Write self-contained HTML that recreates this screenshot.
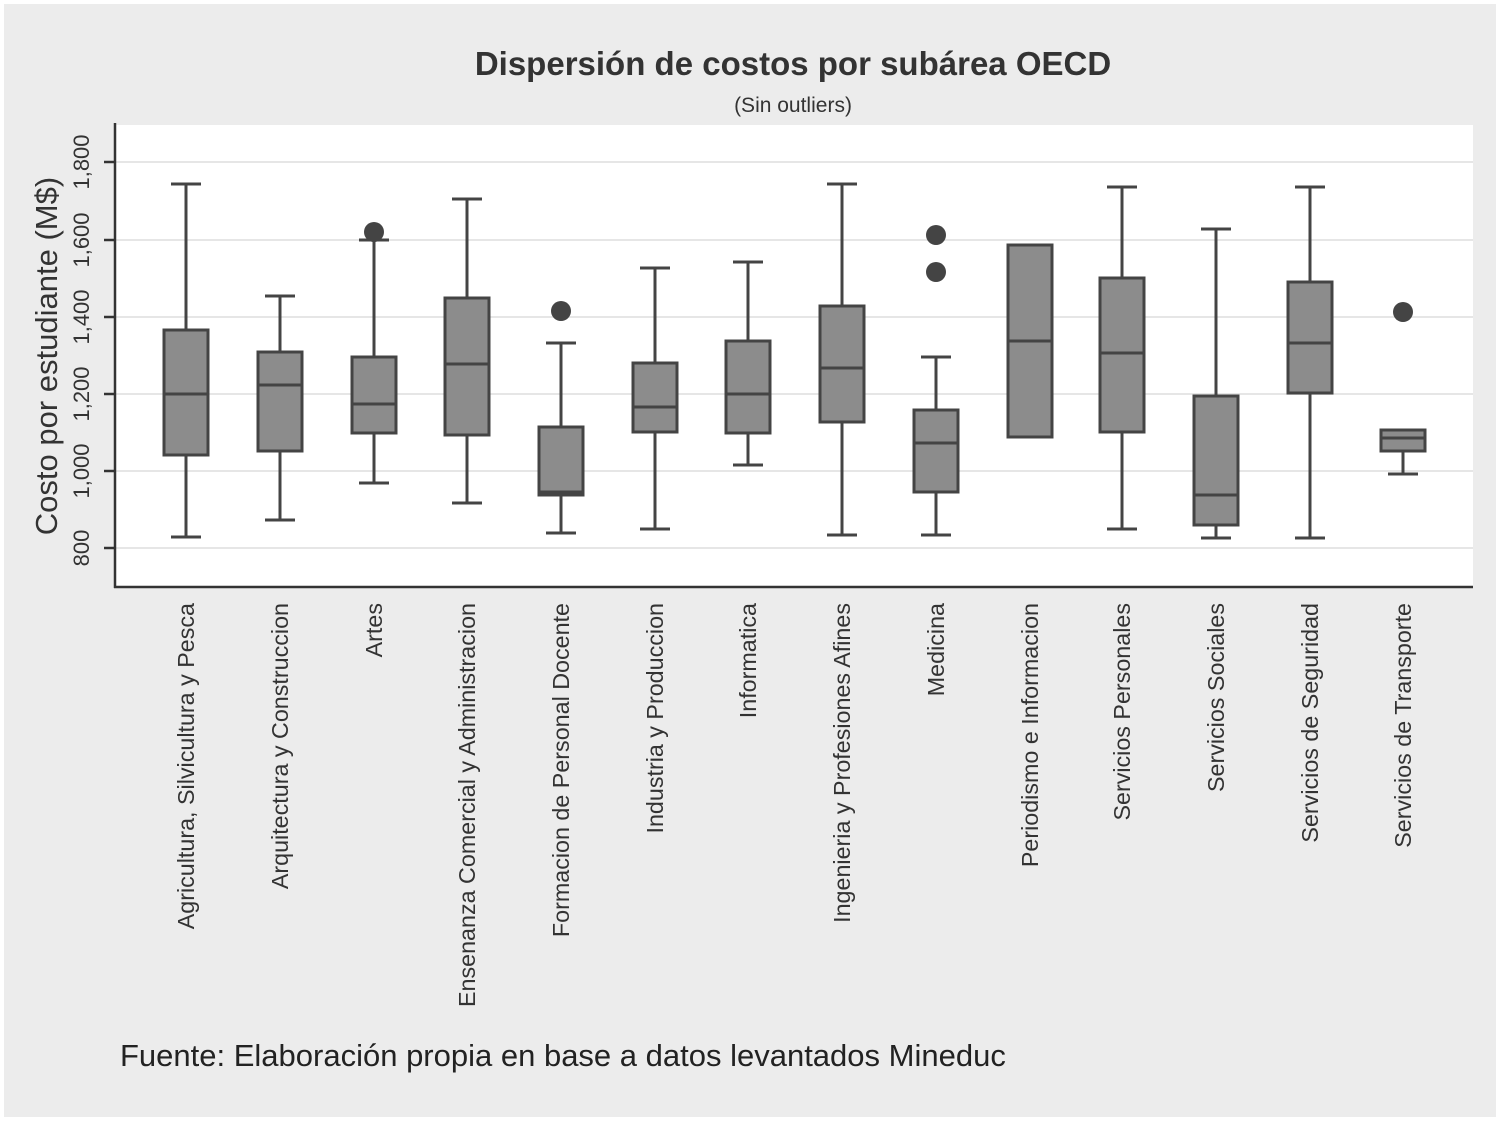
<!DOCTYPE html>
<html><head><meta charset="utf-8"><style>
html,body{margin:0;padding:0;background:#fff;}
svg{display:block;font-family:"Liberation Sans",sans-serif;}
</style></head><body>
<svg width="1500" height="1121" viewBox="0 0 1500 1121" xmlns="http://www.w3.org/2000/svg">
<rect x="0" y="0" width="1500" height="1121" fill="#fff"/>
<rect x="4" y="4" width="1492" height="1113" fill="#ececec"/>
<rect x="115" y="125" width="1358" height="462" fill="#fff"/>
<text x="793" y="75" font-size="33" font-weight="bold" text-anchor="middle" fill="#333">Dispersión de costos por subárea OECD</text>
<text x="793" y="112" font-size="21" text-anchor="middle" fill="#333">(Sin outliers)</text>
<g stroke="#e6e6e6" stroke-width="2">
<line x1="116" x2="1473" y1="162" y2="162"/><line x1="116" x2="1473" y1="240" y2="240"/>
<line x1="116" x2="1473" y1="317" y2="317"/><line x1="116" x2="1473" y1="394" y2="394"/>
<line x1="116" x2="1473" y1="471" y2="471"/><line x1="116" x2="1473" y1="548" y2="548"/>
</g>
<g stroke="#333" stroke-width="2.5">
<line x1="115" y1="123" x2="115" y2="588"/><line x1="114" y1="587" x2="1473" y2="587"/>
<line x1="104" x2="115" y1="162" y2="162"/><line x1="104" x2="115" y1="240" y2="240"/>
<line x1="104" x2="115" y1="317" y2="317"/><line x1="104" x2="115" y1="394" y2="394"/>
<line x1="104" x2="115" y1="471" y2="471"/><line x1="104" x2="115" y1="548" y2="548"/>
</g>
<g font-size="22" fill="#333" text-anchor="middle">
<text transform="translate(89,162) rotate(-90)">1,800</text>
<text transform="translate(89,240) rotate(-90)">1,600</text>
<text transform="translate(89,317) rotate(-90)">1,400</text>
<text transform="translate(89,394) rotate(-90)">1,200</text>
<text transform="translate(89,471) rotate(-90)">1,000</text>
<text transform="translate(89,548) rotate(-90)">800</text>
</g>
<text transform="translate(57,356) rotate(-90)" font-size="31" text-anchor="middle" fill="#333">Costo por estudiante (M$)</text>
<g stroke="#444" stroke-width="3" fill="#8c8c8c">
<line x1="186" x2="186" y1="184" y2="537"/><line x1="171" x2="201" y1="184" y2="184"/><line x1="171" x2="201" y1="537" y2="537"/>
<rect x="164" y="330" width="44" height="125"/><line x1="164" x2="208" y1="394" y2="394"/>
<line x1="280" x2="280" y1="296" y2="520"/><line x1="265" x2="295" y1="296" y2="296"/><line x1="265" x2="295" y1="520" y2="520"/>
<rect x="258" y="352" width="44" height="99"/><line x1="258" x2="302" y1="385" y2="385"/>
<line x1="374" x2="374" y1="240" y2="483"/><line x1="359" x2="389" y1="240" y2="240"/><line x1="359" x2="389" y1="483" y2="483"/>
<rect x="352" y="357" width="44" height="76"/><line x1="352" x2="396" y1="404" y2="404"/>
<line x1="467" x2="467" y1="199" y2="503"/><line x1="452" x2="482" y1="199" y2="199"/><line x1="452" x2="482" y1="503" y2="503"/>
<rect x="445" y="298" width="44" height="137"/><line x1="445" x2="489" y1="364" y2="364"/>
<line x1="561" x2="561" y1="343" y2="533"/><line x1="546" x2="576" y1="343" y2="343"/><line x1="546" x2="576" y1="533" y2="533"/>
<rect x="539" y="427" width="44" height="68"/><line x1="539" x2="583" y1="492" y2="492"/>
<line x1="655" x2="655" y1="268" y2="529"/><line x1="640" x2="670" y1="268" y2="268"/><line x1="640" x2="670" y1="529" y2="529"/>
<rect x="633" y="363" width="44" height="69"/><line x1="633" x2="677" y1="407" y2="407"/>
<line x1="748" x2="748" y1="262" y2="465"/><line x1="733" x2="763" y1="262" y2="262"/><line x1="733" x2="763" y1="465" y2="465"/>
<rect x="726" y="341" width="44" height="92"/><line x1="726" x2="770" y1="394" y2="394"/>
<line x1="842" x2="842" y1="184" y2="535"/><line x1="827" x2="857" y1="184" y2="184"/><line x1="827" x2="857" y1="535" y2="535"/>
<rect x="820" y="306" width="44" height="116"/><line x1="820" x2="864" y1="368" y2="368"/>
<line x1="936" x2="936" y1="357" y2="535"/><line x1="921" x2="951" y1="357" y2="357"/><line x1="921" x2="951" y1="535" y2="535"/>
<rect x="914" y="410" width="44" height="82"/><line x1="914" x2="958" y1="443" y2="443"/>
<rect x="1008" y="245" width="44" height="192"/><line x1="1008" x2="1052" y1="341" y2="341"/>
<line x1="1122" x2="1122" y1="187" y2="529"/><line x1="1107" x2="1137" y1="187" y2="187"/><line x1="1107" x2="1137" y1="529" y2="529"/>
<rect x="1100" y="278" width="44" height="154"/><line x1="1100" x2="1144" y1="353" y2="353"/>
<line x1="1216" x2="1216" y1="229" y2="538"/><line x1="1201" x2="1231" y1="229" y2="229"/><line x1="1201" x2="1231" y1="538" y2="538"/>
<rect x="1194" y="396" width="44" height="129"/><line x1="1194" x2="1238" y1="495" y2="495"/>
<line x1="1310" x2="1310" y1="187" y2="538"/><line x1="1295" x2="1325" y1="187" y2="187"/><line x1="1295" x2="1325" y1="538" y2="538"/>
<rect x="1288" y="282" width="44" height="111"/><line x1="1288" x2="1332" y1="343" y2="343"/>
<line x1="1403" x2="1403" y1="451" y2="474"/><line x1="1388" x2="1418" y1="474" y2="474"/>
<rect x="1381" y="430" width="44" height="21"/><line x1="1381" x2="1425" y1="438" y2="438"/>
</g>
<g fill="#444">
<circle cx="374" cy="232" r="10"/><circle cx="561" cy="311" r="10"/>
<circle cx="936" cy="235" r="10"/><circle cx="936" cy="272" r="10"/>
<circle cx="1403" cy="312" r="10"/>
</g>
<g font-size="23.3" fill="#333" text-anchor="end">
<text transform="translate(194,603) rotate(-90)">Agricultura, Silvicultura y Pesca</text>
<text transform="translate(288,603) rotate(-90)">Arquitectura y Construccion</text>
<text transform="translate(382,603) rotate(-90)">Artes</text>
<text transform="translate(475,603) rotate(-90)">Ensenanza Comercial y Administracion</text>
<text transform="translate(569,603) rotate(-90)">Formacion de Personal Docente</text>
<text transform="translate(663,603) rotate(-90)">Industria y Produccion</text>
<text transform="translate(756,603) rotate(-90)">Informatica</text>
<text transform="translate(850,603) rotate(-90)">Ingenieria y Profesiones Afines</text>
<text transform="translate(944,603) rotate(-90)">Medicina</text>
<text transform="translate(1038,603) rotate(-90)">Periodismo e Informacion</text>
<text transform="translate(1130,603) rotate(-90)">Servicios Personales</text>
<text transform="translate(1224,603) rotate(-90)">Servicios Sociales</text>
<text transform="translate(1318,603) rotate(-90)">Servicios de Seguridad</text>
<text transform="translate(1411,603) rotate(-90)">Servicios de Transporte</text>
</g>
<text x="120" y="1066" font-size="31" fill="#222">Fuente: Elaboración propia en base a datos levantados Mineduc</text>
</svg>
</body></html>
